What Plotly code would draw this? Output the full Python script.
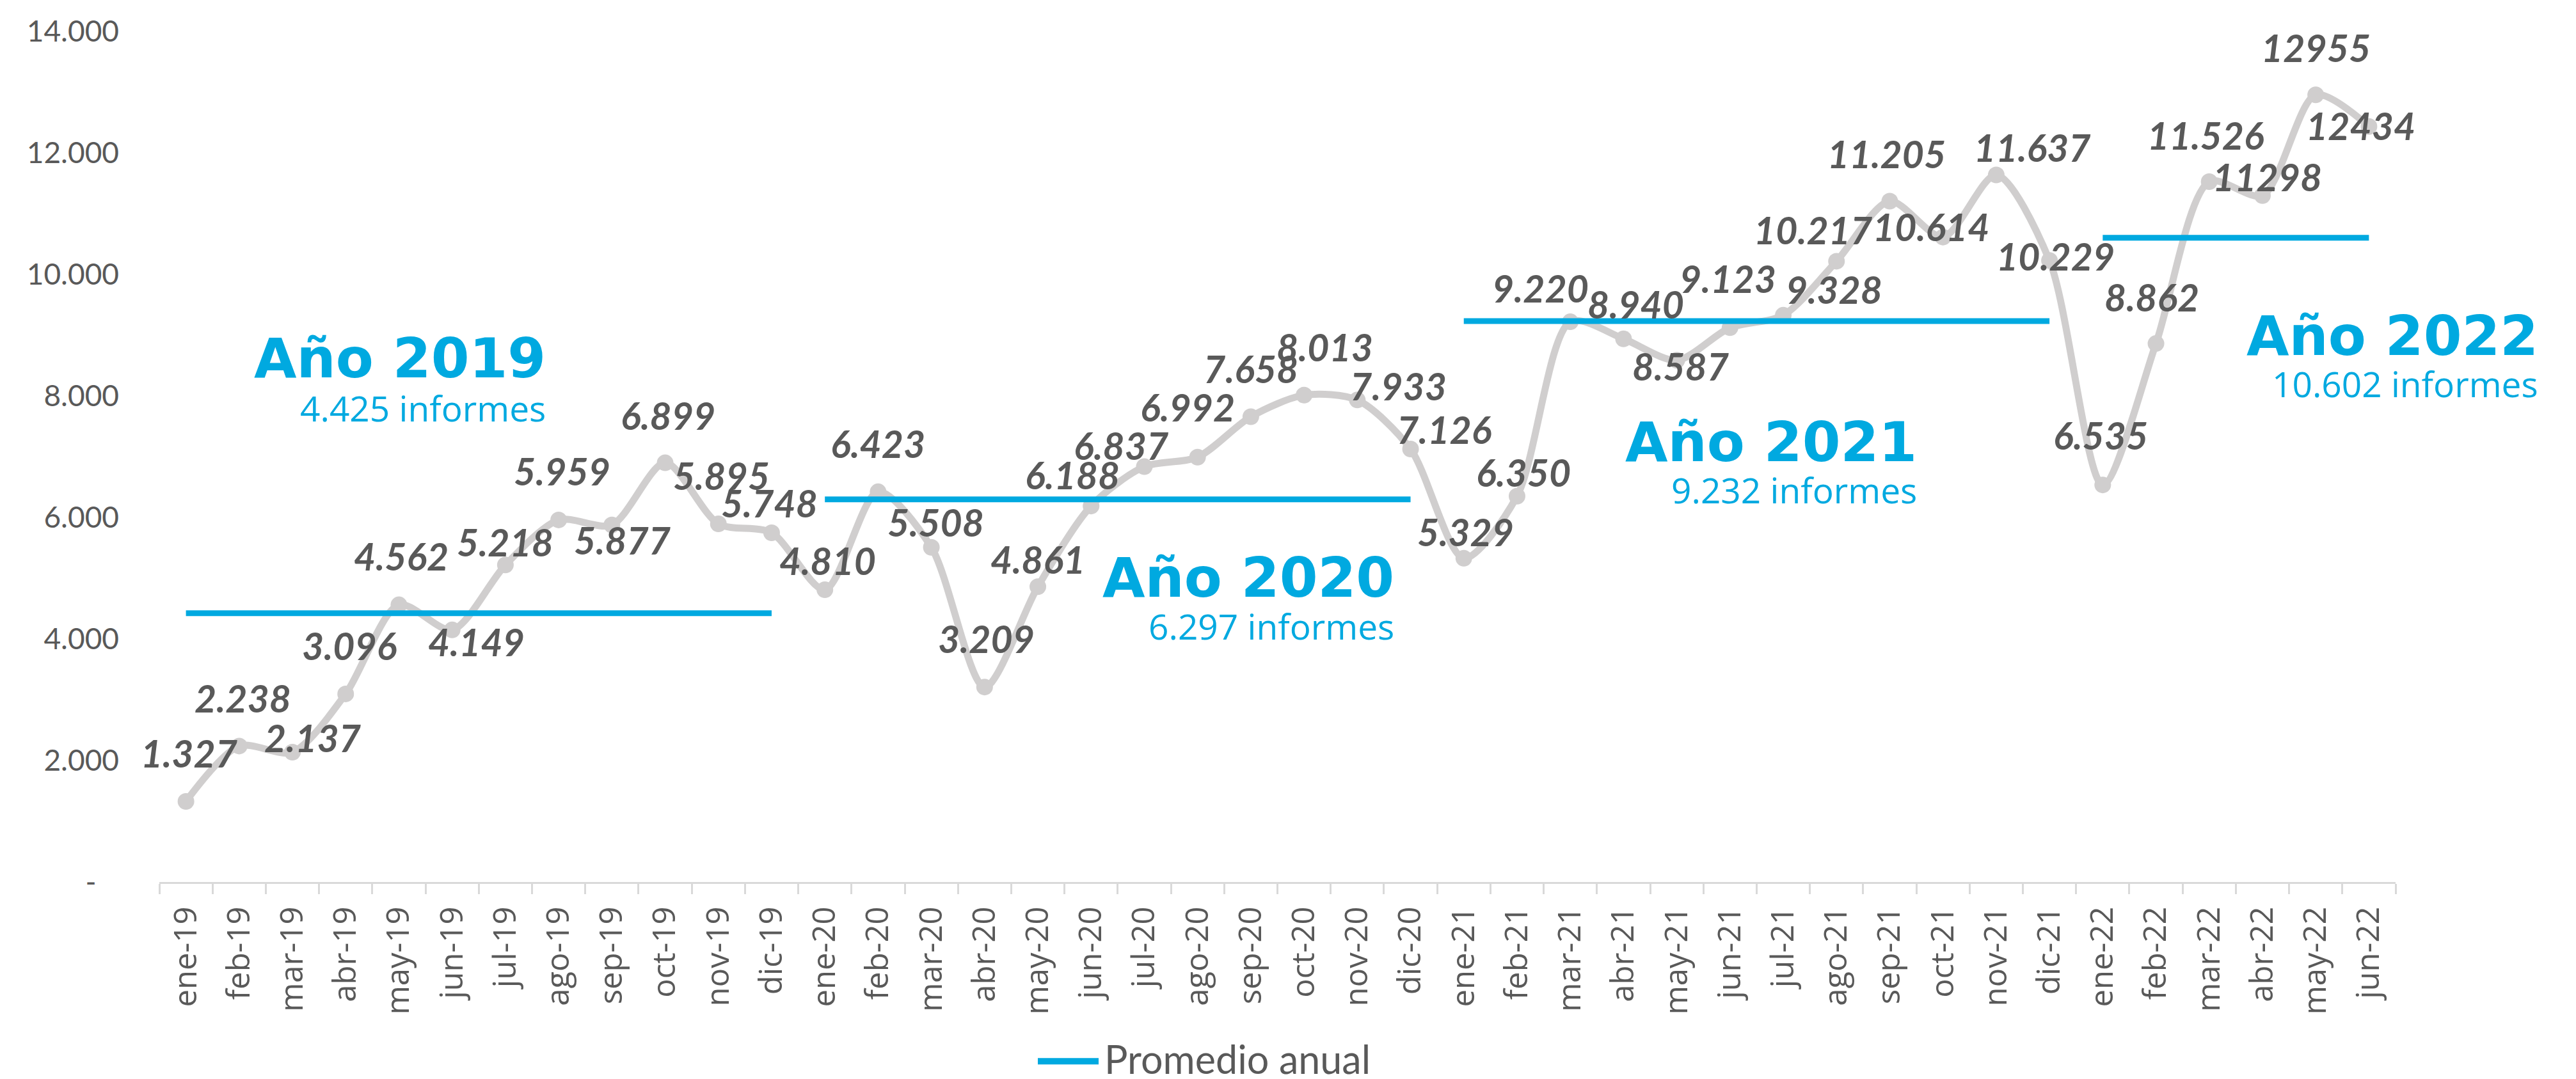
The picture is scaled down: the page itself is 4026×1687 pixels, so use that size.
import plotly.graph_objects as go

# ---------------- data ----------------
months = ["ene-19", "feb-19", "mar-19", "abr-19", "may-19", "jun-19", "jul-19", "ago-19", "sep-19", "oct-19", "nov-19", "dic-19",
          "ene-20", "feb-20", "mar-20", "abr-20", "may-20", "jun-20", "jul-20", "ago-20", "sep-20", "oct-20", "nov-20", "dic-20",
          "ene-21", "feb-21", "mar-21", "abr-21", "may-21", "jun-21", "jul-21", "ago-21", "sep-21", "oct-21", "nov-21", "dic-21",
          "ene-22", "feb-22", "mar-22", "abr-22", "may-22", "jun-22"]
informes = [1327, 2238, 2137, 3096, 4562, 4149, 5218, 5959, 5877, 6899, 5895, 5748,
            4810, 6423, 5508, 3209, 4861, 6188, 6837, 6992, 7658, 8013, 7933, 7126,
            5329, 6350, 9220, 8940, 8587, 9123, 9328, 10217, 11205, 10614, 11637, 10229,
            6535, 8862, 11526, 11298, 12955, 12434]
value_labels = ["1.327", "2.238", "2.137", "3.096", "4.562", "4.149", "5.218", "5.959", "5.877", "6.899", "5.895", "5.748",
                "4.810", "6.423", "5.508", "3.209", "4.861", "6.188", "6.837", "6.992", "7.658", "8.013", "7.933", "7.126",
                "5.329", "6.350", "9.220", "8.940", "8.587", "9.123", "9.328", "10.217", "11.205", "10.614", "11.637", "10.229",
                "6.535", "8.862", "11.526", "11298", "12955", "12434"]

years = ["2019", "2020", "2021", "2022"]
year_avg = [4425, 6297, 9232, 10602]
year_avg_text = ["4.425 informes", "6.297 informes", "9.232 informes", "10.602 informes"]
year_first_month = ["ene-19", "ene-20", "ene-21", "ene-22"]
year_last_month = ["dic-19", "dic-20", "dic-21", "jun-22"]

y_tickvals = [0, 2000, 4000, 6000, 8000, 10000, 12000, 14000]
y_ticktext = ["-\u00a0\u00a0\u00a0", "2.000", "4.000", "6.000", "8.000", "10.000", "12.000", "14.000"]

legend_name = "Promedio anual"

# ---------------- style ----------------
W, H = 4026, 1687
ML, MR, MT, MB = 241, 290, 38, 316
GRAY = "#D0CECE"
BLUE = "#00A9E0"
TXT = "#595959"

# label offsets (px, dx right, dy down) relative to each point
label_offsets = [(5, -69), (6, -69), (31, -16), (6, -69), (4, -70), (38, 25), (0, -30), (5, -70), (16, 30), (4, -68), (5, -69), (-3, -40),
                 (4, -40), (0, -69), (7, -33), (3, -70), (0, -37), (-29, -43), (-36, -27), (-16, -72), (0, -69), (32, -69), (64, -16), (52, -25),
                 (3, -35), (10, -31), (-47, -47), (19, -48), (6, 15), (-3, -71), (79, -34), (-37, -43), (-5, -68), (-19, -10), (56, -37), (9, -1),
                 (-3, -72), (-7, -67), (-6, -67), (8, -23), (0, -68), (-13, 5)]
LABEL_DY = -6

# year-title placement in pixels: right edge, title center y, subtitle center y
year_text_pos = [(847, 550, 628), (2173, 894, 970), (2990, 681, 756), (3961, 515, 590)]

pw = W - ML - MR
ph = H - MT - MB


def px2paper(x, y):
    return (x - ML) / pw, (H - MB - y) / ph


fig = go.Figure()

fig.add_trace(go.Scatter(
    x=months, y=informes, mode="lines+markers",
    line=dict(color=GRAY, width=11, shape="spline", smoothing=0.8),
    marker=dict(color=GRAY, size=26),
    showlegend=False, hoverinfo="skip",
))

for i in range(len(years)):
    fig.add_trace(go.Scatter(
        x=[year_first_month[i], year_last_month[i]], y=[year_avg[i], year_avg[i]],
        mode="lines", line=dict(color=BLUE, width=9),
        showlegend=False, hoverinfo="skip",
    ))

annotations = []
for m, v, t, (dx, dy) in zip(months, informes, value_labels, label_offsets):
    annotations.append(dict(
        x=m, y=v, xref="x", yref="y", text=t, showarrow=False,
        xshift=dx, yshift=-(dy + LABEL_DY), xanchor="center", yanchor="middle",
        font=dict(family="Lato", size=59, color=TXT, weight="bold", style="italic"),
    ))

for i in range(len(years)):
    rx, ty, sy = year_text_pos[i]
    xp, yp = px2paper(rx, ty)
    annotations.append(dict(
        x=xp, y=yp, xref="paper", yref="paper", text="Año " + years[i], showarrow=False,
        xanchor="right", yanchor="middle",
        font=dict(family="DejaVu Sans", size=86, color=BLUE, weight="bold"),
    ))
    xp, yp = px2paper(rx, sy)
    annotations.append(dict(
        x=xp, y=yp, xref="paper", yref="paper", text=year_avg_text[i], showarrow=False,
        xanchor="right", yanchor="middle",
        font=dict(family="Open Sans", size=55, color=BLUE),
    ))

# manual legend
lx0, ly0 = px2paper(1614, 1652)
lx1, _ = px2paper(1709, 1652)
tx, ty = px2paper(1716, 1648)
annotations.append(dict(
    x=tx, y=ty, xref="paper", yref="paper", text=legend_name, showarrow=False,
    xanchor="left", yanchor="middle", height=60, valign="middle",
    font=dict(family="Lato", size=61, color=TXT),
))
shapes = [dict(type="line", xref="paper", yref="paper", x0=lx0, x1=lx1, y0=ly0, y1=ly0,
               line=dict(color=BLUE, width=10))]

fig.update_layout(
    width=W, height=H,
    margin=dict(l=ML, r=MR, t=MT, b=MB, pad=0),
    paper_bgcolor="white", plot_bgcolor="white",
    annotations=annotations, shapes=shapes,
    showlegend=False,
    xaxis=dict(
        type="category", range=[-0.5, len(months) - 0.5],
        showgrid=False, zeroline=False,
        showline=True, linecolor="#D9D9D9", linewidth=3,
        ticks="outside", ticklen=16, tickwidth=3, tickcolor="#D9D9D9",
        tickson="boundaries", tickangle=-90,
        tickfont=dict(family="Open Sans", size=49, color=TXT),
        ticklabelstandoff=16,
    ),
    yaxis=dict(
        range=[0, 14000], showgrid=False, zeroline=False, showline=False,
        tickvals=y_tickvals, ticktext=y_ticktext, ticks="",
        tickfont=dict(family="Lato", size=46, color=TXT),
        ticklabelstandoff=62,
    ),
)

fig.write_html("out.html")
